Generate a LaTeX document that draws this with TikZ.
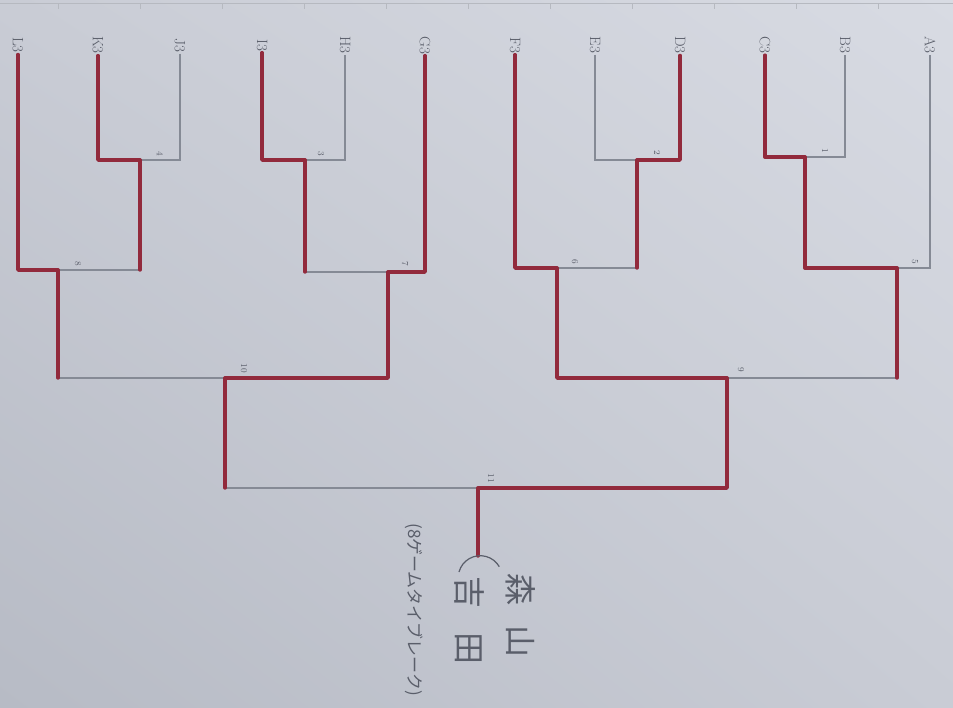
\documentclass[tikz,border=0pt]{standalone}
\usepackage{fontspec}
\usepackage{xcolor}
\usepackage{tikz}
\usetikzlibrary{shadings}
\newfontfamily\jpfont{Noto Sans CJK JP}
\definecolor{paper}{HTML}{C9CCD5}
\definecolor{paperhi}{HTML}{D8DBE3}
\definecolor{paperlo}{HTML}{B7BBC5}
\definecolor{winred}{HTML}{922A3C}
\definecolor{losegrey}{HTML}{858A95}
\definecolor{inkgrey}{HTML}{5A5E6A}

\begin{document}
\begin{tikzpicture}[x=1pt,y=-1pt,
win/.style={draw=winred,line width=3.4pt,line cap=round,line join=round},
lose/.style={draw=losegrey,line width=1.3pt},
leaf/.style={font=\fontsize{15}{15}\selectfont,text=inkgrey,rotate=-90,inner sep=1.5pt},
num/.style={font=\fontsize{9}{9}\selectfont,text=inkgrey,rotate=-90,inner sep=0pt},
jp/.style={font={\jpfont\fontsize{32}{32}\selectfont},text=inkgrey,rotate=-90,inner sep=0pt},
note/.style={font={\jpfont\fontsize{17}{17}\selectfont},text=inkgrey,rotate=-90,inner sep=0pt}
]
\useasboundingbox (0,0) rectangle (953,707);
\shade[upper left=paper,upper right=paperhi,lower left=paperlo,lower right=paper] (0,0) rectangle (953,707);
\draw[losegrey!60,line width=0.6pt] (0,3) -- (953,3);
\foreach \x in {58,140,222,304,386,468,550,632,714,796,878}
	\draw[losegrey!60,line width=0.6pt] (\x,3) -- (\x,9);

% players
\node[leaf] (L3) at (18,45) {L3};
\node[leaf] (K3) at (98,45) {K3};
\node[leaf] (J3) at (180,45) {J3};
\node[leaf] (I3) at (262,45) {I3};
\node[leaf] (H3) at (345,45) {H3};
\node[leaf] (G3) at (425,45) {G3};
\node[leaf] (F3) at (515,45) {F3};
\node[leaf] (E3) at (595,45) {E3};
\node[leaf] (D3) at (680,45) {D3};
\node[leaf] (C3) at (765,45) {C3};
\node[leaf] (B3) at (845,45) {B3};
\node[leaf] (A3) at (930,45) {A3};

% matches
\coordinate (m1) at (805,157);
\coordinate (m2) at (637,160);
\coordinate (m3) at (305,160);
\coordinate (m4) at (140,160);
\coordinate (m5) at (897,268);
\coordinate (m6) at (557,268);
\coordinate (m7) at (388,272);
\coordinate (m8) at (58,270);
\coordinate (m9) at (727,378);
\coordinate (m10) at (225,378);
\coordinate (m11) at (478,488);
\coordinate (champ) at (478,556);

% lost
\draw[lose] (B3) |- (m1);
\draw[lose] (E3) |- (m2);
\draw[lose] (H3) |- (m3);
\draw[lose] (J3) |- (m4);
\draw[lose] (A3) |- (m5);
\draw[lose] (m2 |- m6) -- (m6);
\draw[lose] (m3 |- m7) -- (m7);
\draw[lose] (m4 |- m8) -- (m8);
\draw[lose] (m5 |- m9) -- (m9);
\draw[lose] (m8 |- m10) -- (m10);
\draw[lose] (m10 |- m11) -- (m11);

% won
\draw[win] (C3) |- (m1);
\draw[win] (D3) |- (m2);
\draw[win] (I3) |- (m3);
\draw[win] (K3) |- (m4);
\draw[win] (m1) |- (m5);
\draw[win] (F3) |- (m6);
\draw[win] (G3) |- (m7);
\draw[win] (L3) |- (m8);
\draw[win] (m6) |- (m9);
\draw[win] (m7) |- (m10);
\draw[win] (m9) |- (m11) -- (champ);
\draw[win] (m2) -- (m2 |- m6);
\draw[win] (m3) -- (m3 |- m7);
\draw[win] (m4) -- (m4 |- m8);
\draw[win] (m5) -- (m5 |- m9);
\draw[win] (m8) -- (m8 |- m10);
\draw[win] (m10) -- (m10 |- m11);

% match numbers
\node[num] (n1) at ([shift={(20,-6)}]m1) {1};
\node[num] (n2) at ([shift={(20,-7)}]m2) {2};
\node[num] (n3) at ([shift={(16,-6)}]m3) {3};
\node[num] (n4) at ([shift={(20,-6)}]m4) {4};
\node[num] (n5) at ([shift={(18,-6)}]m5) {5};
\node[num] (n6) at ([shift={(18,-6)}]m6) {6};
\node[num] (n7) at ([shift={(17,-8)}]m7) {7};
\node[num] (n8) at ([shift={(20,-6)}]m8) {8};
\node[num] (n9) at ([shift={(14,-8)}]m9) {9};
\node[num] (n10) at ([shift={(19,-10)}]m10) {10};
\node[num] (n11) at ([shift={(13,-10)}]m11) {11};

% winner
\draw[inkgrey,line width=1.2pt] ([shift={(-19,16)}]champ) arc[start angle=195,end angle=330,radius=22];
\node[jp] (winA) at (521,615) {森\hspace{20pt}山};
\node[jp] (winB) at (470,620) {吉\hspace{24pt}田};
\node[note] (rule) at (414,610) {(8ゲームタイブレーク)};
\end{tikzpicture}
\end{document}
